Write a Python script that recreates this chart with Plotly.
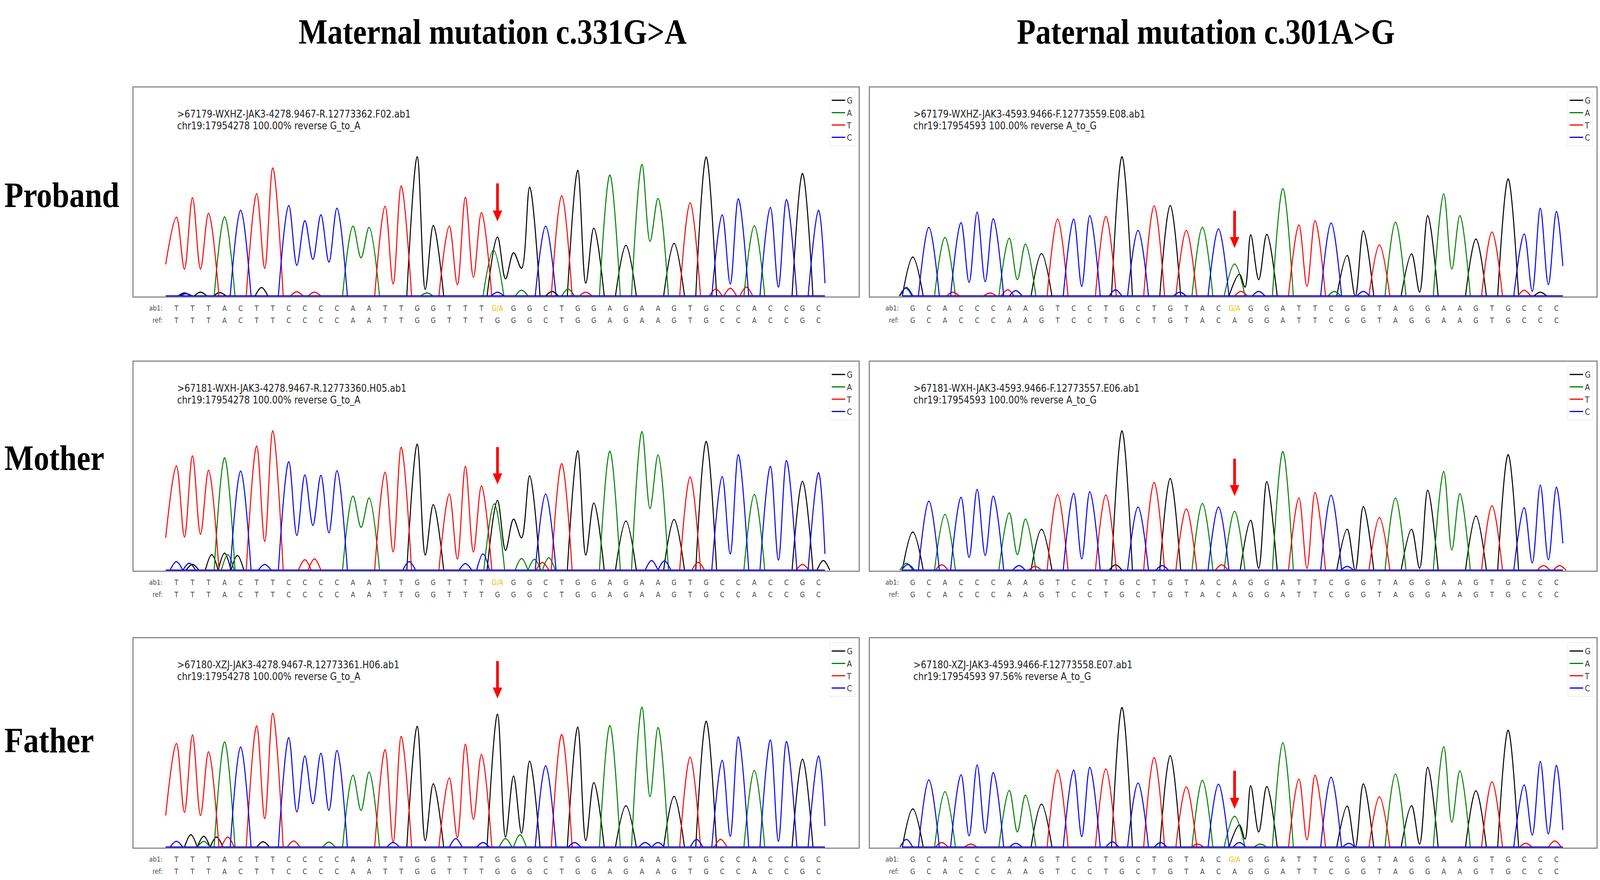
import plotly.graph_objects as go

W, H = 4744, 2253

BASE_COLOURS = {"G": "#000000", "A": "#008000", "T": "#ff0000", "C": "#0000ff"}
CHANNELS = ["G", "A", "T", "C"]
CALL_GREY = "#474747"
HET_ORANGE = "#ffb400"

COL_TITLES = ["Maternal mutation c.331G>A", "Paternal mutation c.301A>G"]
ROW_NAMES = ["Proband", "Mother", "Father"]

# reference sequence shown under each column, mutation at index 20
REF_LEFT = list("TTTACTTCCCCAATTGGTTTGGGCTGGAGAAGTGCCACCGC")
REF_RIGHT = list("GCACCCAAGTCCTGCTGTACAGGATTCGGTAGGAAGTGCCC")
MUT = 20

# panel order: proband L, proband R, mother L, mother R, father L, father R
AB1_CALLS = ["G/A", "G/A", "G/A", "A", "G", "G/A"]
HEADERS = [
    (">67179-WXHZ-JAK3-4278.9467-R.12773362.F02.ab1", "chr19:17954278 100.00% reverse G_to_A"),
    (">67179-WXHZ-JAK3-4593.9466-F.12773559.E08.ab1", "chr19:17954593 100.00% reverse A_to_G"),
    (">67181-WXH-JAK3-4278.9467-R.12773360.H05.ab1", "chr19:17954278 100.00% reverse G_to_A"),
    (">67181-WXH-JAK3-4593.9466-F.12773557.E06.ab1", "chr19:17954593 100.00% reverse A_to_G"),
    (">67180-XZJ-JAK3-4278.9467-R.12773361.H06.ab1", "chr19:17954278 100.00% reverse G_to_A"),
    (">67180-XZJ-JAK3-4593.9466-F.12773558.E07.ab1", "chr19:17954593 97.56% reverse A_to_G"),
]

# peak heights of the called base at each position
PROBAND_L = [202, 252, 212, 203, 220, 262, 328, 232, 193, 208, 225, 179, 176, 230, 282, 357, 181, 179, 253, 214,
             151, 111, 279, 179, 257, 322, 174, 310, 130, 337, 250, 135, 239, 356, 208, 249, 180, 227, 247, 314, 220]
MOTHER_L = [267, 293, 256, 288, 254, 318, 357, 278, 244, 243, 255, 190, 185, 251, 315, 323, 168, 195, 266, 216,
            179, 131, 242, 195, 273, 306, 172, 305, 126, 355, 295, 130, 239, 330, 240, 296, 194, 266, 281, 228, 250]
FATHER_L = [265, 287, 244, 269, 256, 310, 342, 280, 233, 240, 247, 184, 192, 249, 283, 309, 162, 177, 263, 237,
            340, 182, 220, 208, 288, 307, 165, 311, 106, 358, 306, 130, 230, 322, 222, 282, 196, 274, 270, 225, 233]
PROBAND_R = [100, 176, 150, 188, 215, 198, 148, 133, 109, 197, 197, 206, 204, 357, 168, 231, 232, 168, 176, 172,
             82, 157, 158, 275, 182, 193, 187, 104, 167, 131, 189, 108, 206, 262, 206, 146, 164, 300, 159, 225, 217]
MOTHER_R = [98, 177, 143, 187, 207, 190, 147, 131, 105, 194, 197, 201, 193, 357, 162, 225, 235, 157, 171, 162,
            151, 128, 227, 304, 185, 199, 192, 105, 163, 135, 185, 105, 205, 253, 196, 139, 165, 296, 160, 218, 213]
FATHER_R = [98, 172, 142, 185, 210, 191, 145, 133, 110, 197, 197, 204, 200, 357, 164, 229, 234, 154, 171, 161,
            79, 157, 155, 267, 174, 184, 179, 105, 162, 129, 187, 106, 204, 257, 195, 144, 167, 299, 159, 219, 209]

# same-colour neighbours (i, i+1) and the dip between them
PAIRS_LEFT = [0, 1, 5, 7, 8, 9, 11, 13, 15, 17, 18, 20, 21, 25, 29, 34, 37]
PAIRS_RIGHT = [3, 4, 6, 10, 21, 24, 27, 31, 33, 38, 39]
TROUGH_PL = [69, 69, 71, 79, 94, 87, 98, 31, 17, 29, 48, 44, 71, 33, 140, 31, 23]
TROUGH_ML = [85, 92, 74, 89, 115, 96, 110, 47, 39, 29, 47, 51, 83, 39, 158, 42, 26]
TROUGH_FL = [89, 81, 73, 90, 111, 94, 94, 13, 17, 24, 71, 26, 36, 17, 129, 28, 15]
TROUGH_PR = [35, 37, 42, 25, 42, 25, 0, 10, 69, 12, 29]
TROUGH_MR = [33, 38, 40, 29, 5, 5, 0, 5, 52, 19, 27]
TROUGH_FR = [29, 36, 39, 27, 39, 19, 0, 8, 64, 31, 34]

# second peak at the mutation: (base, height, shift, dip to next peak)
SECOND_PEAKS = [("A", 118, -0.25, None), ("G", 56, 0.3, 23), ("A", 170, -0.2, None),
                None, None, ("G", 57, 0.3, 21)]

# trace cut off at both ends
LEAD_HEIGHTS = [81, 0, 83, 0, 81, 0]
TAIL_HEIGHTS = [33, 77, 42, 69, 54, 44]

# red arrows: tip and tail height above baseline
ARROW_TIP = [191, 123, 220, 190, 380, 98]
ARROW_TAIL = [290, 220, 317, 287, 477, 197]

# small background bumps (position, base, height)
NOISE_PL = [(0.5, "G", 8), (1.5, "G", 10), (2.7, "G", 9), (0.6, "C", 6), (5.3, "G", 22), (7.5, "T", 11),
            (8.6, "T", 10), (15.6, "A", 8), (20.0, "C", 10), (21.5, "A", 15), (23.4, "G", 12), (24.4, "A", 18),
            (25.5, "T", 10), (33.6, "T", 18), (34.5, "T", 20), (35.5, "T", 23)]
NOISE_PR = [(-0.45, "A", 20), (-0.4, "C", 22), (2.5, "T", 10), (4.8, "T", 8), (5.9, "T", 16), (6.4, "C", 14),
            (12.6, "C", 16), (16.6, "C", 10), (20.4, "T", 12), (21.5, "C", 12), (26.2, "A", 12), (28.0, "C", 12),
            (38.0, "T", 15), (39.0, "G", 10)]
NOISE_ML = [(0.0, "C", 22), (0.8, "C", 18), (1.0, "G", 15), (2.2, "G", 40), (3.0, "G", 44), (3.8, "G", 38),
            (3.2, "A", 40), (5.5, "C", 15), (8.0, "T", 27), (8.6, "T", 29), (14.5, "C", 22), (18.0, "C", 17),
            (19.1, "C", 42), (21.5, "A", 30), (22.3, "A", 28), (23.2, "A", 32), (22.8, "T", 20), (29.6, "C", 25),
            (30.4, "C", 24), (32.5, "T", 20), (39.0, "T", 15), (40.3, "G", 25)]
NOISE_MR = [(-0.4, "A", 18), (-0.3, "C", 15), (1.8, "T", 14), (6.6, "C", 12), (7.6, "T", 10), (12.6, "G", 14),
            (15.5, "C", 12), (19.2, "T", 14), (27.0, "C", 10), (39.2, "T", 12), (40.2, "T", 12)]
NOISE_FL = [(0.0, "C", 15), (0.9, "G", 32), (1.7, "G", 28), (2.5, "G", 26), (1.7, "A", 15), (3.2, "T", 26),
            (5.4, "G", 14), (7.3, "T", 16), (9.5, "A", 13), (13.5, "C", 12), (17.4, "C", 22), (19.1, "C", 12),
            (20.5, "A", 22), (21.4, "A", 32), (24.8, "C", 12), (29.2, "C", 12), (30.0, "C", 12), (32.4, "C", 20),
            (33.9, "T", 20)]
NOISE_FR = [(-0.4, "C", 20), (1.8, "T", 12), (3.6, "T", 8), (6.4, "C", 10), (12.4, "C", 14), (15.4, "C", 12),
            (17.7, "T", 8), (20.3, "C", 12), (21.6, "A", 8), (27.1, "C", 10), (38.1, "T", 10), (39.9, "T", 16)]

# page geometry (px)
COL_X = [(396, 2546), (2579, 4734)]
ROW_Y = [(224, 759), (926, 1461), (1634, 2170)]
X_RANGE = [-2.67, 42.5]
Y_RANGE = [-1, 534]
X_START, X_END = -0.67, 40.4
PEAK_W = 0.65
NOISE_W = 0.4

PANELS = [
    dict(ref=REF_LEFT, heights=PROBAND_L, pairs=PAIRS_LEFT, troughs=TROUGH_PL, noise=NOISE_PL),
    dict(ref=REF_RIGHT, heights=PROBAND_R, pairs=PAIRS_RIGHT, troughs=TROUGH_PR, noise=NOISE_PR),
    dict(ref=REF_LEFT, heights=MOTHER_L, pairs=PAIRS_LEFT, troughs=TROUGH_ML, noise=NOISE_ML),
    dict(ref=REF_RIGHT, heights=MOTHER_R, pairs=PAIRS_RIGHT, troughs=TROUGH_MR, noise=NOISE_MR),
    dict(ref=REF_LEFT, heights=FATHER_L, pairs=PAIRS_LEFT, troughs=TROUGH_FL, noise=NOISE_FL),
    dict(ref=REF_RIGHT, heights=FATHER_R, pairs=PAIRS_RIGHT, troughs=TROUGH_FR, noise=NOISE_FR),
]


def channel_points(panel, second, lead, tail, base):
    ref = panel["ref"]
    link = dict(zip(panel["pairs"], panel["troughs"]))
    events = [(i, panel["heights"][i], link.get(i), i) for i, b in enumerate(ref) if b == base]
    if second and second[0] == base:
        events.append((MUT + second[2], second[1], second[3], None))
    events.sort(key=lambda e: e[0])

    xs, ys = [X_START, X_END, None], [0, 0, None]
    new_seg = True
    for k, (x, h, dip, idx) in enumerate(events):
        if new_seg:
            if idx == 0 and lead:
                xs.append(X_START); ys.append(lead)
            else:
                xs.append(x - PEAK_W); ys.append(0)
        xs.append(x); ys.append(h)
        if dip is not None and k + 1 < len(events):
            xs.append((x + events[k + 1][0]) / 2); ys.append(dip)
            new_seg = False
        else:
            if idx == len(ref) - 1:
                xs.append(X_END); ys.append(tail)
            else:
                xs.append(x + PEAK_W); ys.append(0)
            xs.append(None); ys.append(None)
            new_seg = True
    for pos, b, h in panel["noise"]:
        if b == base:
            xs += [pos - NOISE_W, pos, pos + NOISE_W, None]
            ys += [0, h, 0, None]
    return xs, ys


fig = go.Figure()
layout = {}
annotations = []
hidden = dict(showgrid=False, zeroline=False, showticklabels=False, ticks="", showline=False, fixedrange=True)

for p, panel in enumerate(PANELS):
    row, col = divmod(p, 2)
    k = p + 1
    sfx = "" if k == 1 else str(k)
    xa, ya, lg = "x" + sfx, "y" + sfx, "legend" + sfx
    x0, x1 = COL_X[col]
    y0, y1 = ROW_Y[row]

    for base in CHANNELS:
        xs, ys = channel_points(panel, SECOND_PEAKS[p], LEAD_HEIGHTS[p], TAIL_HEIGHTS[p], base)
        fig.add_trace(go.Scatter(
            x=xs, y=ys, mode="lines", name=base, legend=lg, xaxis=xa, yaxis=ya,
            line=dict(color=BASE_COLOURS[base], width=3, shape="spline", smoothing=1.0),
            hoverinfo="skip"))

    # base calls under the trace, on their own strip of axes
    ts = str(k + 6)
    ref = panel["ref"]
    calls = list(ref)
    calls[MUT] = AB1_CALLS[p]
    call_cols = [HET_ORANGE if "/" in c else CALL_GREY for c in calls]
    for label, letters, colours, yy in [("ab1:", calls, call_cols, -32), ("ref:", ref, [CALL_GREY] * len(ref), -63)]:
        fig.add_trace(go.Scatter(
            x=list(range(len(letters))), y=[yy] * len(letters), mode="text", text=letters,
            textfont=dict(family="DejaVu Sans", size=19, color=colours),
            showlegend=False, hoverinfo="skip", xaxis="x" + ts, yaxis="y" + ts))
        fig.add_trace(go.Scatter(
            x=[-0.86], y=[yy], mode="text", text=[label], textposition="middle left",
            textfont=dict(family="DejaVu Sans", size=18, color=CALL_GREY),
            showlegend=False, hoverinfo="skip", xaxis="x" + ts, yaxis="y" + ts))
    layout["xaxis" + ts] = dict(domain=[x0 / W, x1 / W], range=X_RANGE, anchor="y" + ts, **hidden)
    layout["yaxis" + ts] = dict(domain=[1 - (y1 + 80) / H, 1 - (y1 + 5) / H], range=[-80, -5],
                                anchor="x" + ts, **hidden)

    frame = dict(showgrid=False, zeroline=False, showticklabels=False, ticks="", showline=True,
                 mirror=True, linecolor="#8a8a8a", linewidth=3, fixedrange=True)
    layout["xaxis" + sfx] = dict(domain=[x0 / W, x1 / W], range=X_RANGE, anchor=ya, **frame)
    layout["yaxis" + sfx] = dict(domain=[1 - y1 / H, 1 - y0 / H], range=Y_RANGE, anchor=xa, **frame)
    layout[lg] = dict(x=(x1 - 11) / W, y=1 - (y0 + 11) / H, xanchor="right", yanchor="top",
                      bgcolor="white", bordercolor="#e2e2e2", borderwidth=1, itemwidth=40,
                      font=dict(family="DejaVu Sans", size=22, color="#333333"))

    for line, yy in zip(HEADERS[p], [466, 436]):
        annotations.append(dict(x=0, y=yy, xref=xa, yref=ya, text=line, showarrow=False,
                                xanchor="left", yanchor="middle",
                                font=dict(family="DejaVu Sans", size=26, color="#222222")))

    annotations.append(dict(x=MUT, y=ARROW_TIP[p], ax=MUT, ay=ARROW_TAIL[p], xref=xa, yref=ya,
                            axref=xa, ayref=ya, text="", showarrow=True, arrowhead=2,
                            arrowsize=0.7, arrowwidth=8, arrowcolor="#ff0000", standoff=0))

for title, cx in zip(COL_TITLES, [1461, 3575]):
    annotations.append(dict(x=cx / W, y=1 - 81 / H, xref="paper", yref="paper", text=title,
                            showarrow=False, xanchor="center", yanchor="middle",
                            font=dict(family="Liberation Serif", size=91, color="black", weight="bold")))

for name, cy in zip(ROW_NAMES, [499, 1172, 1895]):
    annotations.append(dict(x=11 / W, y=1 - cy / H, xref="paper", yref="paper", text=name,
                            showarrow=False, xanchor="left", yanchor="middle",
                            font=dict(family="Liberation Serif", size=92, color="black", weight="bold")))

fig.update_layout(
    width=W, height=H, margin=dict(l=0, r=0, t=0, b=0),
    paper_bgcolor="white", plot_bgcolor="white",
    annotations=annotations, **layout)

# the browser may give a narrower viewport than the 4744x2253 page: stretch the page onto it
FIT_JS = """
var d = document.getElementById('{plot_id}');
var sx = window.innerWidth / 4744, sy = window.innerHeight / 2253;
document.documentElement.style.overflow = 'hidden';
document.body.style.margin = '0';
document.body.style.overflow = 'hidden';
d.style.transformOrigin = '0 0';
d.style.transform = 'scale(' + sx + ',' + sy + ')';
"""

fig.write_html("out.html", config={"displayModeBar": False}, post_script=FIT_JS)
